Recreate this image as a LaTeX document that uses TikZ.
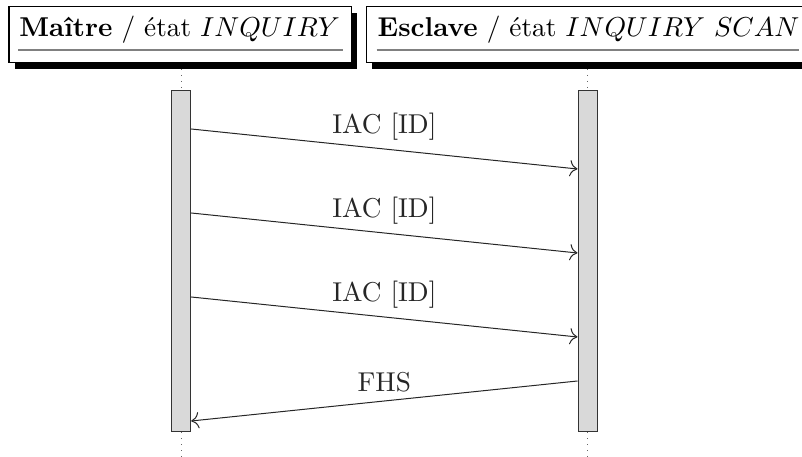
\documentclass[tikz,border=0pt]{standalone}
\usetikzlibrary{shadows,arrows.meta}
\begin{document}
\begin{tikzpicture}[x=0.4pt,y=-0.4pt,
  every node/.style={font=\fontsize{10.9}{13}\selectfont},
  hdr/.style={draw=black, fill=white, line width=0.45pt, inner sep=0pt,
    minimum height=22.3pt,
    drop shadow={shadow xshift=2.2pt, shadow yshift=-2.5pt, fill=black, opacity=1}},
  hdrtext/.style={anchor=base west, inner sep=0pt},
  uline/.style={draw=black!50, line width=0.45pt},
  act/.style={draw=black!80, fill=black!15, line width=0.4pt, inner sep=0pt,
    minimum width=7.6pt, minimum height=136.4pt},
  life/.style={dotted, draw=black!60, line width=0.4pt},
  msg/.style={-{To[scale=1.25]}, draw=black!85, line width=0.4pt},
  lbl/.style={midway, above, text=black!85}]
\useasboundingbox (0,0) rectangle (802,457);
% headers
\node[hdr, minimum width=137.0pt] (m) at (180.3,34.8) {};
\node[hdr, minimum width=177.0pt] (s) at (587.8,34.8) {};
\node[hdrtext] (mt) at (18.8,36.7) {\textbf{Maître} / état $INQUIRY$};
\node[hdrtext] (st) at (377.2,36.7) {\textbf{Esclave} / état $INQUIRY\ SCAN$};
\draw[uline] (18.3,50) -- (342.5,50);
\draw[uline] (376.7,50) -- (799.3,50);
% activation bars
\node[act] (a1) at (181.2,261.5) {};
\node[act] (a2) at (587.5,261.5) {};
% lifelines
\draw[life] (a1.north |- 0,69) -- (a1.north);
\draw[life] (a1.south) -- (a1.south |- 0,457);
\draw[life] (a2.north |- 0,69) -- (a2.north);
\draw[life] (a2.south) -- (a2.south |- 0,457);
% messages
\draw[msg] (a1.east |- 0,129) -- node[lbl] {IAC [ID]} (a2.west |- 0,169);
\draw[msg] (a1.east |- 0,213) -- node[lbl] {IAC [ID]} (a2.west |- 0,253);
\draw[msg] (a1.east |- 0,297) -- node[lbl] {IAC [ID]} (a2.west |- 0,337);
\draw[msg] (a2.west |- 0,381) -- node[lbl] {FHS} (a1.east |- 0,421);
\end{tikzpicture}
\end{document}
